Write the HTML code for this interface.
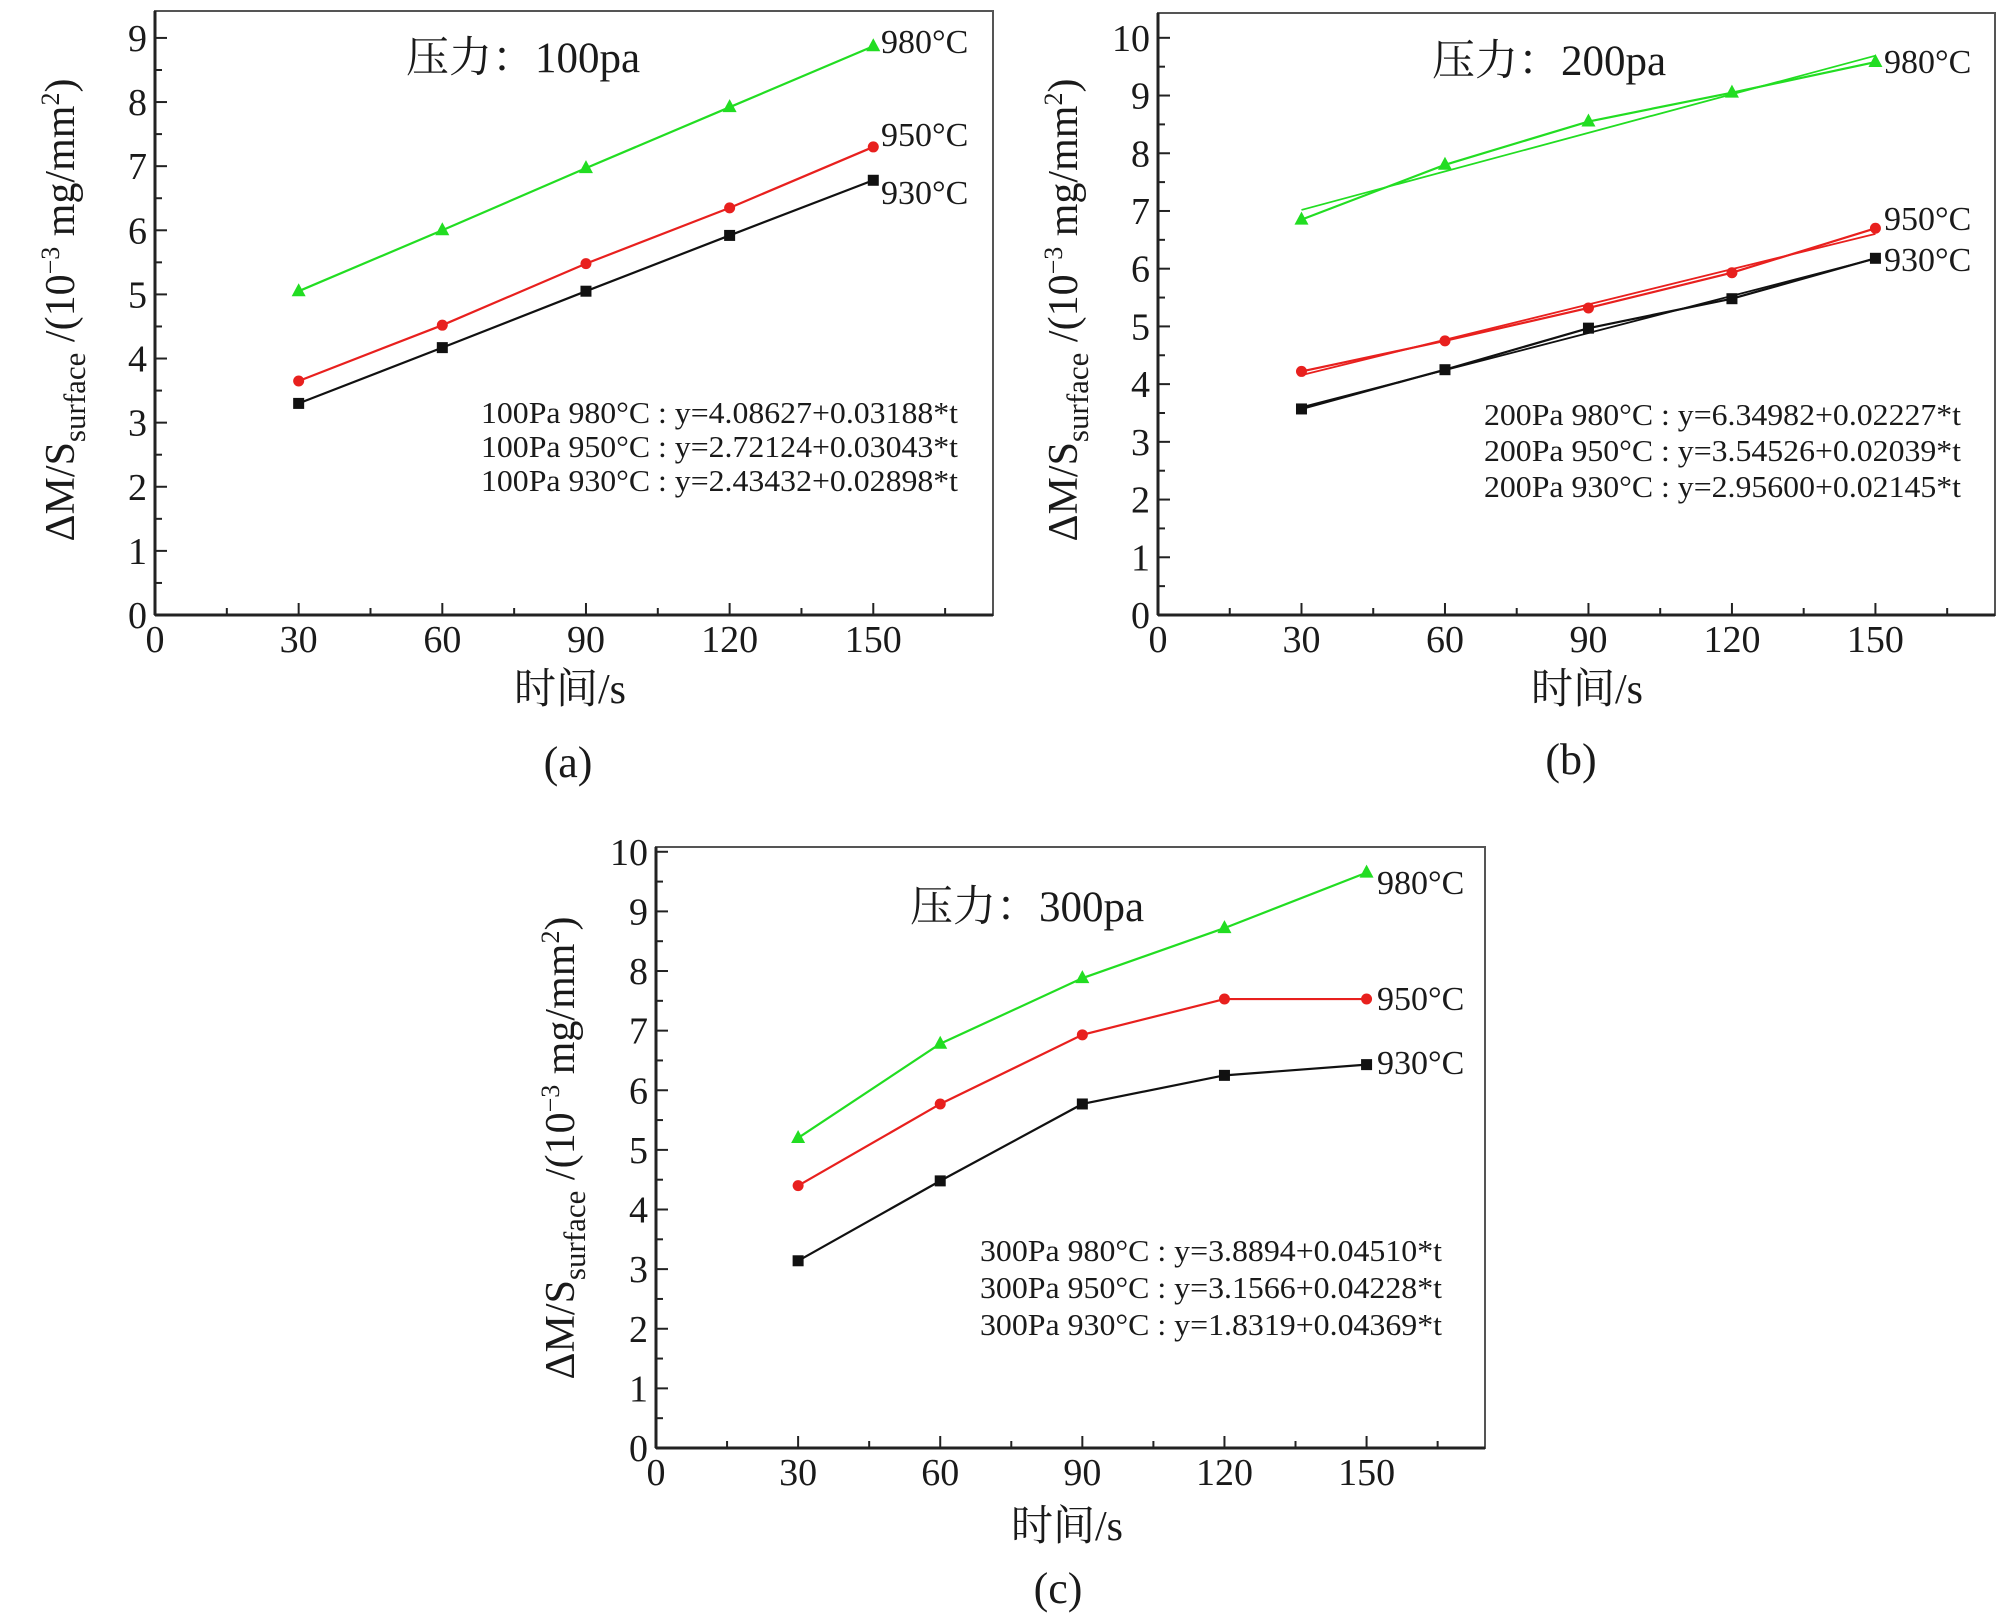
<!DOCTYPE html>
<html><head><meta charset="utf-8">
<style>
html,body{margin:0;padding:0;background:#fff;}
svg{display:block;}
text{font-family:"Liberation Serif","Noto Serif CJK SC","Noto Sans CJK SC",serif;fill:#1a1a1a;}
</style></head>
<body>
<svg id="fig" width="2000" height="1619" viewBox="0 0 2000 1619" xmlns="http://www.w3.org/2000/svg"></svg>
<script>
const times = [30, 60, 90, 120, 150];
const xTickLabels = ["0","30","60","90","120","150"];
const seriesNames = ["980°C","950°C","930°C"];
const a980 = [5.05, 6.0, 6.97, 7.92, 8.87];
const a950 = [3.65, 4.52, 5.48, 6.35, 7.3];
const a930 = [3.3, 4.17, 5.05, 5.92, 6.78];
const b980 = [6.85, 7.8, 8.55, 9.05, 9.58];
const b950 = [4.22, 4.75, 5.32, 5.93, 6.7];
const b930 = [3.57, 4.25, 4.97, 5.48, 6.18];
const b980fit = [6.34982, 0.02227];
const b950fit = [3.54526, 0.02039];
const b930fit = [2.95600, 0.02145];
const c980 = [5.2, 6.78, 7.88, 8.72, 9.65];
const c950 = [4.4, 5.77, 6.93, 7.53, 7.53];
const c930 = [3.14, 4.48, 5.77, 6.25, 6.43];
const eqA = ["100Pa 980°C : y=4.08627+0.03188*t","100Pa 950°C : y=2.72124+0.03043*t","100Pa 930°C : y=2.43432+0.02898*t"];
const eqB = ["200Pa 980°C : y=6.34982+0.02227*t","200Pa 950°C : y=3.54526+0.02039*t","200Pa 930°C : y=2.95600+0.02145*t"];
const eqC = ["300Pa 980°C : y=3.8894+0.04510*t","300Pa 950°C : y=3.1566+0.04228*t","300Pa 930°C : y=1.8319+0.04369*t"];

const NS="http://www.w3.org/2000/svg";
const svg=document.getElementById('fig');
function mk(tag,attrs,parent){const e=document.createElementNS(NS,tag);for(const k in attrs)e.setAttribute(k,attrs[k]);(parent||svg).appendChild(e);return e;}
const colors=["#22dd22","#e8201e","#111111"];

function panel(cfg){
  const g=mk('g',{});
  
  
  const L=cfg.L,R=cfg.R,T=cfg.T,B=cfg.B;
  const sx=v=>L+(v/175)*(R-L);
  const sy=v=>B-(v/cfg.ymax)*(B-T);
  const fr=mk('rect',{x:L,y:T,width:R-L,height:B-T,fill:'none',stroke:'#555',"stroke-width":2},g);
  
  
  mk('line',{x1:L,y1:B,x2:R,y2:B,stroke:'#222',"stroke-width":3},g);
  mk('line',{x1:L,y1:T,x2:L,y2:B,stroke:'#222',"stroke-width":3},g);
  for(let v=0;v<=165;v+=15){
    const major=v%30===0;
    mk('line',{x1:sx(v),y1:B,x2:sx(v),y2:B-(major?12:7),stroke:'#222',"stroke-width":2},g);
  }
  xTickLabels.forEach(s=>{
    const t=mk('text',{x:sx(+s),y:B+37,"font-size":38,"text-anchor":"middle"},g);
    t.textContent=s;
    
    
  });
  for(let v=0;v<=cfg.ymax+0.001;v+=0.5){
    const major=Math.abs(v-Math.round(v))<0.01;
    mk('line',{x1:L,y1:sy(v),x2:L+(major?12:7),y2:sy(v),stroke:'#222',"stroke-width":2},g);
    if(major){
      const t=mk('text',{x:L-8,y:sy(v)+13,"font-size":38,"text-anchor":"end"},g);
      t.textContent=String(Math.round(v));
      
      
    }
  }
  (cfg.fits||[]).forEach((f,i)=>{
    const p=mk('line',{x1:sx(30),y1:sy(f[0]+f[1]*30),x2:sx(150),y2:sy(f[0]+f[1]*150),stroke:colors[i],"stroke-width":1.8},g);
    
    
  });
  cfg.series.forEach((arr,i)=>{
    const pts=times.map((t,j)=>sx(t)+','+sy(arr[j])).join(' ');
    const pl=mk('polyline',{points:pts,fill:'none',stroke:colors[i],"stroke-width":2.2},g);
    
    
    times.forEach((t,j)=>{
      const x=sx(t),y=sy(arr[j]);let m;
      if(i===0) m=mk('polygon',{points:`${x},${y-8} ${x-7},${y+5} ${x+7},${y+5}`,fill:colors[0]},g);
      else if(i===1) m=mk('circle',{cx:x,cy:y,r:5.5,fill:colors[1]},g);
      else m=mk('rect',{x:x-5.5,y:y-5.5,width:11,height:11,fill:colors[2]},g);
      
      
    });
  });
  cfg.labY.forEach((y,i)=>{
    const t=mk('text',{x:cfg.labX,y:y,"font-size":34},g);
    t.textContent=seriesNames[i];
    
    
  });
  cfg.eq.forEach((s,i)=>{
    const t=mk('text',{x:cfg.eqX,y:cfg.eqY[i],"font-size":31,textLength:cfg.eqW,lengthAdjust:'spacingAndGlyphs'},g);
    t.textContent=s;
    
    
  });
  const tt=mk('text',{x:cfg.titleX,y:cfg.titleY,"font-size":43},g);
  tt.textContent=cfg.title;
  
  
  const xt=mk('text',{x:cfg.xtX,y:cfg.xtY,"font-size":42,"text-anchor":"middle"},g);
  xt.textContent='时间/s';
  
  
  const yt=mk('text',{x:0,y:0,"font-size":42,"text-anchor":"middle",transform:`translate(${cfg.ytX},${cfg.ytY}) rotate(-90)`},g);
  yt.innerHTML='ΔM/S<tspan font-size="31" dy="11">surface</tspan><tspan dy="-11"> /(10</tspan><tspan font-size="26" dy="-15">−3</tspan><tspan dy="15"> mg/mm</tspan><tspan font-size="26" dy="-15">2</tspan><tspan dy="15">)</tspan>';
  
  
  const cap=mk('text',{x:cfg.capX,y:cfg.capY,"font-size":44,"text-anchor":"middle"},g);
  cap.textContent='('+cfg.id+')';
  
  
}

panel({id:'a',L:155,R:993,T:11,B:615,ymax:9.42,series:[a980,a950,a930],
  labX:881,labY:[53,146,204],eq:eqA,eqX:481,eqW:477,eqY:[423,457,491],
  title:'压力：100pa',titleX:406,titleY:72,xtX:570,xtY:703,ytX:74,ytY:310,capX:568,capY:777});
panel({id:'b',L:1158,R:1995,T:13,B:615,ymax:10.43,series:[b980,b950,b930],fits:[b980fit,b950fit,b930fit],
  labX:1884,labY:[73,230,271],eq:eqB,eqX:1484,eqW:477,eqY:[425,461,497],
  title:'压力：200pa',titleX:1432,titleY:75,xtX:1587,xtY:703,ytX:1077,ytY:310,capX:1571,capY:774});
panel({id:'c',L:656,R:1485,T:847,B:1448,ymax:10.08,series:[c980,c950,c930],
  labX:1377,labY:[894,1010,1074],eq:eqC,eqX:980,eqW:462,eqY:[1261,1298,1335],
  title:'压力：300pa',titleX:910,titleY:921,xtX:1067,xtY:1540,ytX:574,ytY:1148,capX:1058,capY:1603});
</script>
</body></html>
